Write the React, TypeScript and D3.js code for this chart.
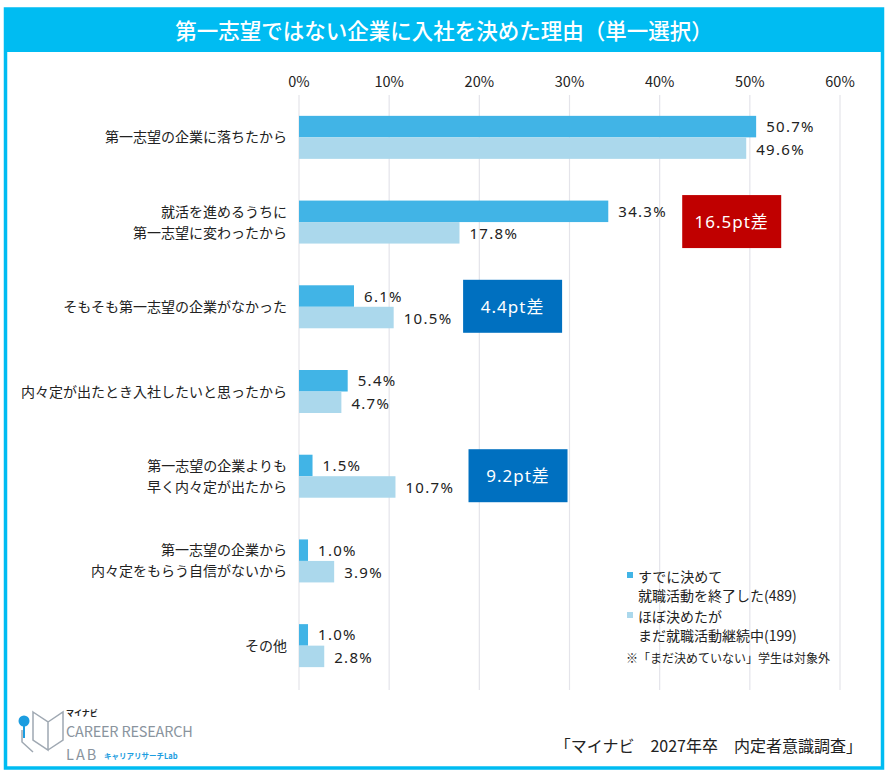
import React from 'react'
import * as d3 from 'd3'

// reasons for joining a company that wasn't the first choice
const categories = [
  ['第一志望の企業に落ちたから'],
  ['就活を進めるうちに', '第一志望に変わったから'],
  ['そもそも第一志望の企業がなかった'],
  ['内々定が出たとき入社したいと思ったから'],
  ['第一志望の企業よりも', '早く内々定が出たから'],
  ['第一志望の企業から', '内々定をもらう自信がないから'],
  ['その他'],
]
const decided = [50.7, 34.3, 6.1, 5.4, 1.5, 1.0, 1.0]
const continuing = [49.6, 17.8, 10.5, 4.7, 10.7, 3.9, 2.8]
const ticks = [0, 10, 20, 30, 40, 50, 60]

// callout boxes: row index, text, colour, left edge in percent units
const callouts = [
  { row: 1, text: '16.5pt差', color: '#C00000', at: 42.5 },
  { row: 2, text: '4.4pt差', color: '#0070C0', at: 18.2 },
  { row: 4, text: '9.2pt差', color: '#0070C0', at: 18.8 },
]

const W = 888
const H = 778
const font = '"Noto Sans CJK JP", "Noto Sans", sans-serif'
const numFont = '"Noto Sans", "Noto Sans CJK JP", sans-serif'
const darkBlue = '#41B4E6'
const lightBlue = '#ABD8EC'
const frame = '#00BCF2'

export default function App() {
  const x = d3.scaleLinear().domain([0, 60]).range([299, 840])
  const y = d3.scaleBand<number>().domain(d3.range(categories.length)).range([95, 688])
  const barH = 21.5

  return (
    <svg width={W} height={H} style={{ position: 'absolute', left: 0, top: 0 }} fontFamily={font}>
      <rect width={W} height={H} fill="#fff" />
      <rect x={5.5} y={9} width={877} height={759} fill="#fff" stroke={frame} strokeWidth={3.5} />
      <rect x={4} y={8} width={880} height={44} fill={frame} />
      <text x={444} y={39} textAnchor="middle" fill="#fff" fontSize={21.5} fontWeight={500}>
        第一志望ではない企業に入社を決めた理由（単一選択）
      </text>

      {ticks.map(t => (
        <g key={t}>
          <line x1={x(t)} x2={x(t)} y1={95} y2={690} stroke="#E4E4EA" strokeWidth={1.2} />
          <text x={x(t)} y={87} textAnchor="middle" fontSize={14.5} fill="#222">{t}%</text>
        </g>
      ))}

      {categories.map((lines, i) => {
        const cy = (y(i) as number) + y.bandwidth() / 2
        const y0 = cy - barH
        return (
          <g key={i}>
            {lines.map((l, j) => (
              <text key={j} x={287} y={cy + 5 + (j - (lines.length - 1) / 2) * 21}
                textAnchor="end" fontSize={14} fill="#222">{l}</text>
            ))}
            <rect x={x(0)} y={y0} width={x(decided[i]) - x(0)} height={barH} fill={darkBlue} />
            <rect x={x(0)} y={cy} width={x(continuing[i]) - x(0)} height={barH} fill={lightBlue} />
            <g fontFamily={numFont} fontSize={15} letterSpacing={1.3} fill="#222">
              <text x={x(decided[i]) + 10} y={y0 + barH / 2 + 5.5}>{decided[i].toFixed(1)}%</text>
              <text x={x(continuing[i]) + 10} y={cy + barH / 2 + 6.5}>{continuing[i].toFixed(1)}%</text>
            </g>
          </g>
        )
      })}

      {callouts.map(c => {
        const cy = (y(c.row) as number) + y.bandwidth() / 2
        return (
          <g key={c.row}>
            <rect x={x(c.at)} y={cy - 27} width={99} height={53} fill={c.color} />
            <text x={x(c.at) + 49.5} y={cy + 6} textAnchor="middle" fontSize={17}
              fontFamily={numFont} letterSpacing={1} fill="#fff">{c.text}</text>
          </g>
        )
      })}

      <g fontSize={14} fill="#222">
        <rect x={627} y={572} width={6} height={6} fill={darkBlue} />
        <text x={638} y={582}>すでに決めて</text>
        <text x={638} y={601}>就職活動を終了した(489)</text>
        <rect x={627} y={612} width={6} height={6} fill={lightBlue} />
        <text x={638} y={622}>ほぼ決めたが</text>
        <text x={638} y={641}>まだ就職活動継続中(199)</text>
        <text x={626} y={663} fontSize={12}>※「まだ決めていない」学生は対象外</text>
      </g>

      {/* logo */}
      <g>
        <path d="M33 712 L48 722 L48 750 L33 740 Z M48 722 L63 712 L63 740 L48 750 M33 740 L48 750" fill="none" stroke="#9FA8B2" strokeWidth={1.5} />
        <path d="M22 730 L22 742 L33 752" fill="none" stroke="#9FA8B2" strokeWidth={1.5} />
        <circle cx={24} cy={721} r={5.5} fill="#1C9DE0" />
        <line x1={24} y1={726} x2={24} y2={738} stroke="#1C9DE0" strokeWidth={2} />
        <text x={66} y={716} fontSize={8} fontWeight={700} fill="#222">マイナビ</text>
        <text x={66} y={737} fontSize={14.5} fill="#8A949E" letterSpacing={-0.2}>CAREER RESEARCH</text>
        <text x={66} y={760} fontSize={14.5} fill="#8A949E" letterSpacing={2}>LAB</text>
        <text x={104} y={759} fontSize={7.5} fontWeight={700} fill="#1C9DE0">キャリアリサーチLab</text>
      </g>
      <text x={862} y={752} textAnchor="end" fontSize={16} fill="#222">「マイナビ　2027年卒　内定者意識調査」</text>
    </svg>
  )
}
